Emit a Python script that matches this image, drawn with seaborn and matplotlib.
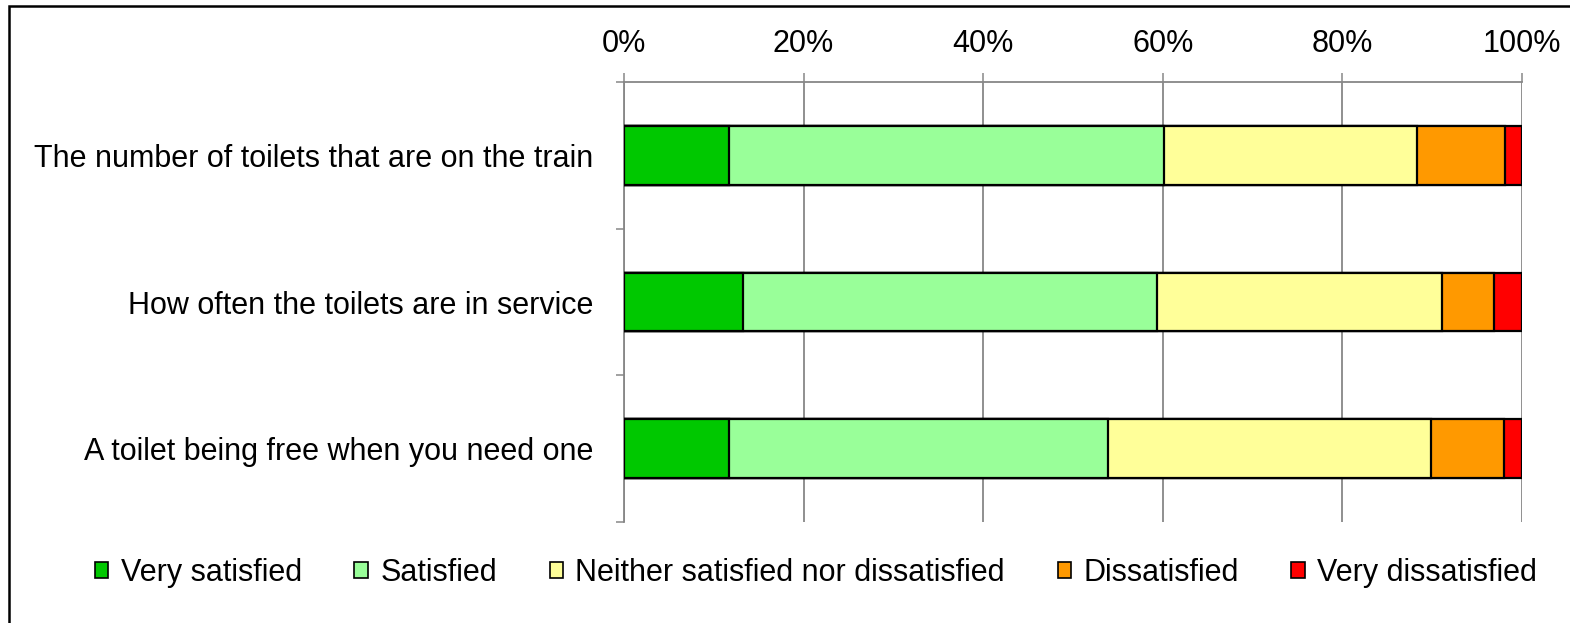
import matplotlib
matplotlib.use("Agg")
import matplotlib.pyplot as plt
import seaborn as sns
import pandas as pd
import numpy as np
from matplotlib.patches import Rectangle, Patch
from matplotlib.ticker import FixedLocator

categories = ["The number of toilets that are on the train",
              "How often the toilets are in service",
              "A toilet being free when you need one"]
series_names = ["Very satisfied", "Satisfied", "Neither satisfied nor dissatisfied",
                "Dissatisfied", "Very dissatisfied"]
very_satisfied = [11.7, 13.2, 11.7]
satisfied = [48.4, 46.1, 42.2]
neither = [28.2, 31.8, 36.0]
dissatisfied = [9.8, 5.8, 8.1]
very_dissatisfied = [1.9, 3.1, 2.0]
colors = ["#00C800", "#99FF99", "#FFFF99", "#FF9900", "#FF0000"]
xtick_labels = ["0%", "20%", "40%", "60%", "80%", "100%"]

sns.set_theme(style="white")
plt.rcParams['font.family'] = ['Liberation Sans', 'DejaVu Sans']
plt.rcParams['text.color'] = 'black'
plt.rcParams['xtick.labelcolor'] = 'black'
plt.rcParams['ytick.labelcolor'] = 'black'

values = np.array([very_satisfied, satisfied, neither, dissatisfied, very_dissatisfied])
cum = np.cumsum(values, axis=0)

fig = plt.figure(figsize=(15.7, 6.23), dpi=100)
ax = fig.add_axes([624/1570, 1 - 522/623, (1522-624)/1570, (522-82)/623])

# vertical gridlines first
for v in range(0, 101, 20):
    ax.axvline(v, color="#878787", lw=1.3, zorder=0)

# stacked via overdrawing cumulative totals (largest first)
for i in range(len(series_names) - 1, -1, -1):
    df = pd.DataFrame({"category": categories, "value": cum[i]})
    sns.barplot(data=df, y="category", x="value", orient="h", color=colors[i],
                saturation=1, width=0.4, edgecolor="black", linewidth=1.6,
                ax=ax, zorder=2)

ax.set_xlim(0, 100)
ax.set_ylim(2.5, -0.5)
ax.set_xlabel("")
ax.set_ylabel("")
ax.xaxis.tick_top()
ax.set_xticks(range(0, 101, 20))
ax.set_xticklabels(xtick_labels, fontsize=22, color="black")
ax.tick_params(axis="x", which="major", direction="out", length=6.5, width=1.1,
               color="#878787", pad=10, top=True, bottom=False)
ax.set_yticks(range(len(categories)))
ax.set_yticklabels(categories, fontsize=22, color="black")
ax.tick_params(axis="y", which="major", length=0, pad=22, left=True)
ax.yaxis.set_minor_locator(FixedLocator([-0.5, 0.5, 1.5, 2.5]))
ax.tick_params(axis="y", which="minor", direction="out", length=6, width=1.1,
               color="#878787", left=True)
for s in ["right", "bottom"]:
    ax.spines[s].set_visible(False)
for s in ["top", "left"]:
    ax.spines[s].set_color("#878787")
    ax.spines[s].set_linewidth(1.3)
    ax.spines[s].set_zorder(1)

handles = [Patch(facecolor=c, edgecolor="black", linewidth=1.2) for c in colors]
leg = fig.legend(handles, series_names, loc="center", bbox_to_anchor=(816/1570, 1 - 573/623),
                 ncol=5, frameon=False, fontsize=22, handlelength=0.45, handleheight=0.45,
                 handletextpad=0.4, columnspacing=1.72, borderpad=0)
for t in leg.get_texts():
    t.set_color("black")

fig.patches.append(Rectangle((9/1570, -0.1), 1.2, 1 - 6/623 + 0.1, transform=fig.transFigure,
                             fill=False, edgecolor="black", linewidth=1.8))

fig.savefig("out.png", dpi=100)
